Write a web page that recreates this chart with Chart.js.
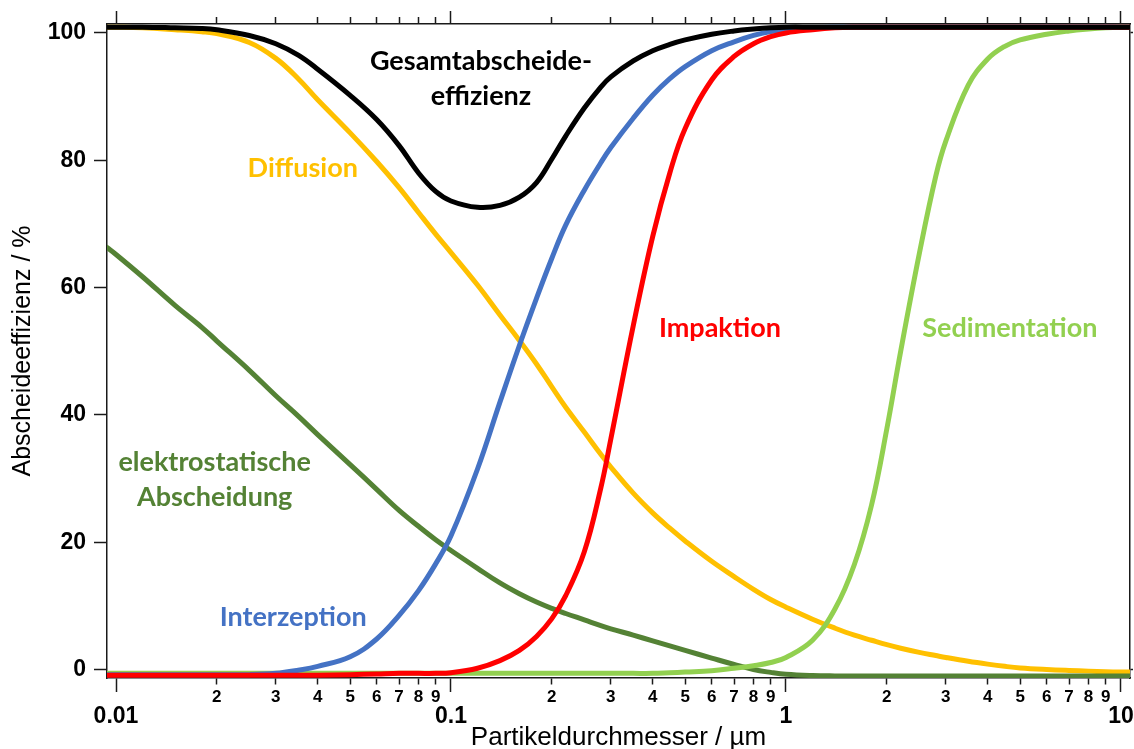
<!DOCTYPE html>
<html>
<head>
<meta charset="utf-8">
<script src="https://cdn.jsdelivr.net/npm/chart.js@4.4.1/dist/chart.umd.min.js"></script>
<style>
  html, body { margin: 0; padding: 0; background: #ffffff; }
  #wrap { width: 1134px; height: 749px; }
</style>
</head>
<body>
<div id="wrap"><canvas id="c" width="1134" height="749"></canvas></div>
<script>
// Particle diameter grid (µm)
const diameters = [0.0094, 0.01, 0.012, 0.015, 0.018, 0.02, 0.025, 0.03, 0.035, 0.04, 0.05, 0.06, 0.07, 0.08, 0.09,
  0.1, 0.12, 0.14, 0.16, 0.18, 0.2, 0.22, 0.25, 0.28, 0.3, 0.35, 0.4, 0.45, 0.5, 0.6, 0.7, 0.8, 0.9,
  1, 1.2, 1.4, 1.6, 1.8, 2, 2.2, 2.5, 2.8, 3, 3.5, 4, 4.5, 5, 6, 7, 8, 9, 10, 10.6];

// Efficiencies (%)
const gesamt = [100.9, 100.9, 100.9, 100.8, 100.7, 100.5, 99.6, 98.3, 96.5, 94.3, 90.2, 86.4, 82.3, 78.0, 75.1,
  73.6, 72.6, 72.9, 74.2, 76.5, 80.2, 83.8, 88.2, 91.5, 93.1, 95.6, 97.2, 98.2, 98.9, 99.8, 100.3, 100.6, 100.8,
  100.9, 100.9, 100.9, 100.9, 100.9, 100.9, 100.9, 100.9, 100.9, 100.9, 100.9, 100.9, 100.9, 100.9, 100.9, 100.9, 100.9, 100.9, 100.9, 100.9];

const diffusion = [100.9, 100.9, 100.8, 100.5, 100.2, 99.9, 98.5, 96.0, 92.8, 89.5, 84.3, 79.8, 75.7, 71.8, 68.4,
  65.5, 60.4, 55.7, 51.7, 48.0, 44.4, 41.2, 37.3, 33.8, 31.8, 27.7, 24.6, 22.2, 20.2, 17.0, 14.6, 12.6, 11.0,
  9.8, 7.9, 6.5, 5.4, 4.6, 3.9, 3.35, 2.7, 2.2, 1.9, 1.3, 0.85, 0.5, 0.25, 0.0, -0.15, -0.25, -0.35, -0.4, -0.4];

const interzeption = [-0.8, -0.8, -0.8, -0.8, -0.8, -0.8, -0.8, -0.6, -0.1, 0.5, 2.0, 4.8, 8.5, 12.4, 16.6,
  21.0, 31.5, 42.0, 50.9, 58.3, 64.6, 69.8, 75.3, 79.6, 82.0, 86.6, 90.2, 92.8, 94.7, 97.2, 98.6, 99.6, 100.2,
  100.5, 100.8, 100.9, 100.9, 100.9, 100.9, 100.9, 100.9, 100.9, 100.9, 100.9, 100.9, 100.9, 100.9, 100.9, 100.9, 100.9, 100.9, 100.9, 100.9];

const impaktion = [-0.9, -0.9, -0.9, -0.9, -0.9, -0.9, -0.9, -0.9, -0.9, -0.9, -0.8, -0.7, -0.6, -0.6, -0.6,
  -0.5, 0.2, 1.4, 3.0, 5.2, 8.0, 11.6, 18.5, 28.5, 36.2, 54.0, 68.0, 78.0, 85.0, 92.6, 96.3, 98.3, 99.4,
  100.0, 100.5, 100.8, 100.9, 100.9, 100.9, 100.9, 100.9, 100.9, 100.9, 100.9, 100.9, 100.9, 100.9, 100.9, 100.9, 100.9, 100.9, 100.9, 100.9];

const elektrostatisch = [66.3, 65.2, 61.7, 57.2, 53.8, 51.6, 47.0, 43.0, 39.8, 36.9, 32.2, 28.3, 25.0, 22.5, 20.4,
  18.7, 15.9, 13.6, 11.9, 10.6, 9.6, 8.8, 7.8, 6.9, 6.4, 5.4, 4.5, 3.7, 3.0, 1.8, 0.8, 0.0, -0.45,
  -0.75, -0.95, -1.0, -1.0, -1.0, -1.0, -1.0, -1.0, -1.0, -1.0, -1.0, -1.0, -1.0, -1.0, -1.0, -1.0, -1.0, -1.0, -1.0, -1.0];

const sedimentation = [-0.6, -0.6, -0.6, -0.6, -0.6, -0.6, -0.6, -0.6, -0.6, -0.6, -0.6, -0.6, -0.6, -0.6, -0.6,
  -0.6, -0.6, -0.6, -0.6, -0.6, -0.6, -0.6, -0.6, -0.6, -0.6, -0.6, -0.6, -0.5, -0.4, -0.2, 0.2, 0.6, 1.1,
  1.9, 4.6, 9.5, 16.5, 25.8, 37.8, 50.0, 65.3, 77.5, 83.0, 91.8, 95.9, 97.9, 98.9, 99.8, 100.3, 100.6, 100.8, 100.9, 100.9];

// Axis ticks
const xMajorTicks = [0.01, 0.1, 1, 10];
const xMajorLabels = ['0.01', '0.1', '1', '10'];
const xMinorMultipliers = [2, 3, 4, 5, 6, 7, 8, 9];
const yTicks = [0, 20, 40, 60, 80, 100];

// Series labels drawn in the plot
const seriesNames = ['Gesamtabscheide-\neffizienz', 'Diffusion', 'elektrostatische\nAbscheidung', 'Interzeption', 'Impaktion', 'Sedimentation'];
const labelAtX = [0.1229, 0.0361, 0.0197, 0.0338, 0.635, 4.66];
const labelAtY = [92.8, 78.7, 29.8, 8.2, 53.6, 53.6];
const seriesColors = ['#000000', '#FFC000', '#548235', '#4472C4', '#FF0000', '#92D050'];

const X_MIN = 0.0094, X_MAX = 10.64, Y_MIN = -1.33, Y_MAX = 101.4;

function allXTicks() {
  const t = [];
  xMajorTicks.forEach((m, i) => {
    t.push({ value: m, major: true });
    if (i < xMajorTicks.length - 1) xMinorMultipliers.forEach(k => t.push({ value: +(m * k).toPrecision(6), major: false }));
  });
  return t;
}
function toPoints(vals) { return diameters.map((d, i) => ({ x: d, y: vals[i] })); }

function ds(label, vals, color) {
  return {
    label, data: toPoints(vals), borderColor: color, backgroundColor: color,
    borderWidth: 5, pointRadius: 0, fill: false, tension: 0.4,
    borderCapStyle: 'round', borderJoinStyle: 'round'
  };
}

const labelPlugin = {
  id: 'seriesLabels',
  afterDatasetsDraw(chart) {
    const { ctx, scales } = chart;
    ctx.save();
    ctx.font = 'bold 27px Lato, "Open Sans", sans-serif';
    ctx.textAlign = 'center';
    ctx.textBaseline = 'middle';
    seriesNames.forEach((name, i) => {
      const px = scales.x.getPixelForValue(labelAtX[i]);
      const py = scales.y.getPixelForValue(labelAtY[i]);
      const lines = name.split('\n');
      const lh = 35;
      ctx.fillStyle = seriesColors[i];
      lines.forEach((ln, j) => ctx.fillText(ln, px, py + (j - (lines.length - 1) / 2) * lh));
    });
    ctx.restore();
  }
};

const axisColor = '#1a1a1a';
const tickFont = '"Liberation Sans", Arial, sans-serif';

new Chart(document.getElementById('c'), {
  type: 'line',
  data: {
    datasets: [
      ds('Gesamtabscheideeffizienz', gesamt, '#000000'),
      ds('Impaktion', impaktion, '#FF0000'),
      ds('Interzeption', interzeption, '#4472C4'),
      ds('Sedimentation', sedimentation, '#92D050'),
      ds('elektrostatische Abscheidung', elektrostatisch, '#548235'),
      ds('Diffusion', diffusion, '#FFC000')
    ]
  },
  options: {
    responsive: false,
    devicePixelRatio: 1,
    animation: false,
    layout: { padding: 0 },
    plugins: { legend: { display: false }, tooltip: { enabled: false }, title: { display: false } },
    scales: {
      x: {
        type: 'logarithmic', position: 'bottom', min: X_MIN, max: X_MAX,
        afterBuildTicks: s => { s.ticks = allXTicks(); },
        afterFit: s => { s.height = 71; },
        border: { display: true, color: axisColor, width: 1.5 },
        grid: {
          display: true, drawOnChartArea: false, drawTicks: true, tickLength: 14,
          tickColor: axisColor, tickWidth: 1.5,
          tickBorderDash: ctx => (ctx.tick && ctx.tick.major) ? [] : [6, 100]
        },
        ticks: {
          autoSkip: false, maxRotation: 0, minRotation: 0, padding: -5, color: '#000',
          callback: (v) => {
            const mi = xMajorTicks.findIndex(m => Math.abs(v / m - 1) < 1e-6);
            if (mi >= 0) return xMajorLabels[mi];
            const dec = Math.pow(10, Math.floor(Math.log10(v) + 1e-9));
            return String(Math.round(v / dec));
          },
          font: ctx => (ctx.tick && ctx.tick.major)
            ? { family: tickFont, size: 23, weight: 'bold', lineHeight: 2.62 }
            : { family: tickFont, size: 17, weight: 'bold', lineHeight: 1.2 }
        },
        title: {
          display: true, text: 'Partikeldurchmesser / µm', color: '#000',
          font: { family: tickFont, size: 26, lineHeight: 0.85 },
          padding: 0
        }
      },
      xTop: {
        type: 'logarithmic', position: 'top', min: X_MIN, max: X_MAX,
        afterBuildTicks: s => { s.ticks = allXTicks(); },
        afterFit: s => { s.height = 24; },
        border: { display: true, color: axisColor, width: 1.5 },
        grid: {
          display: true, drawOnChartArea: false, drawTicks: true, tickLength: 13,
          tickColor: axisColor, tickWidth: 1.5,
          tickBorderDash: ctx => (ctx.tick && ctx.tick.major) ? [] : [0, 6, 7, 100]
        },
        ticks: { display: false }
      },
      y: {
        type: 'linear', position: 'left', min: Y_MIN, max: Y_MAX,
        afterBuildTicks: s => { s.ticks = yTicks.map(v => ({ value: v })); },
        afterFit: s => { s.width = 107; },
        border: { display: true, color: axisColor, width: 1.5 },
        grid: { display: true, drawOnChartArea: false, drawTicks: true, tickLength: 13, tickColor: axisColor, tickWidth: 1.5 },
        ticks: {
          padding: 8, color: '#000',
          font: { family: tickFont, size: 23, weight: 'bold' }
        },
        title: {
          display: true, text: 'Abscheideeffizienz / %', color: '#000',
          font: { family: tickFont, size: 25, lineHeight: 1.2 },
          padding: { top: 8, bottom: 0 }
        }
      },
      yRight: {
        type: 'linear', position: 'right', min: Y_MIN, max: Y_MAX,
        afterBuildTicks: s => { s.ticks = [{ value: 0 }, { value: 100 }]; },
        afterFit: s => { s.width = 4; },
        border: { display: true, color: axisColor, width: 1.5 },
        grid: { display: true, drawOnChartArea: false, drawTicks: true, tickLength: 3, tickColor: axisColor, tickWidth: 1.5 },
        ticks: { display: false }
      }
    }
  },
  plugins: [labelPlugin]
});
</script>
</body>
</html>
